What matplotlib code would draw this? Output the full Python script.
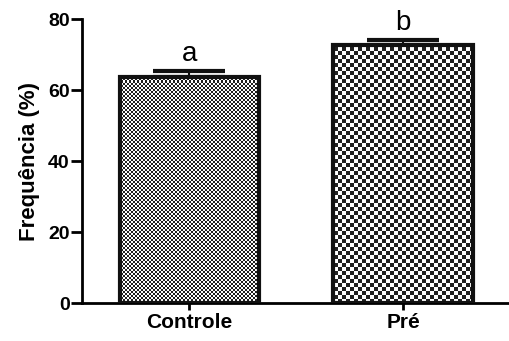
import numpy as np
import matplotlib.pyplot as plt

groups = ['Controle', 'Pré']
freq = [63.8, 72.6]
err_up = [1.6, 1.6]
letters = ['a', 'b']
check_px = [2, 4]   # checker square size in pixels for each bar

plt.rcParams['font.family'] = ['Liberation Sans', 'DejaVu Sans']

fig = plt.figure(figsize=(5.1, 3.41), dpi=100)
ax = fig.add_axes([0.161, 0.111, 0.839, 0.833])

x = np.arange(len(groups))
bars = ax.bar(x, freq, width=0.65, color='none', edgecolor='#111111',
              linewidth=3, zorder=3)
ax.errorbar(x, freq, yerr=[[0] * len(x), err_up], fmt='none', ecolor='#111111',
            elinewidth=1.5, capsize=26, capthick=3, zorder=2)

# checkerboard fill, clipped to each bar
xl, yl = (-0.5, 1.5), (0, 80)
w_px, h_px = 428, 284
for b, s in zip(bars, check_px):
    ny, nx = h_px // s, w_px // s
    arr = np.add.outer(np.arange(ny), np.arange(nx)) % 2
    im = ax.imshow(arr, cmap='gray', vmin=-0.15, vmax=1, extent=(*xl, *yl),
                   aspect='auto', interpolation='nearest', zorder=2.5)
    im.set_clip_path(b)

for xi, v, e, t in zip(x, freq, err_up, letters):
    ax.text(xi, v + e + 1.0, t, ha='center', va='bottom', fontsize=20)

ax.set_xlim(*xl)
ax.set_ylim(*yl)
ax.set_xticks(x)
ax.set_xticklabels(groups, fontsize=15, fontweight='bold')
ax.set_yticks([0, 20, 40, 60, 80])
ax.tick_params(axis='y', labelsize=14, length=8, width=2, pad=1)
ax.tick_params(axis='x', length=5, width=2, pad=2)
for lab in ax.get_yticklabels():
    lab.set_fontweight('bold')
ax.set_ylabel('Frequência (%)', fontsize=16, fontweight='bold', labelpad=6)

for sp in ['top', 'right']:
    ax.spines[sp].set_visible(False)
for sp in ['left', 'bottom']:
    ax.spines[sp].set_linewidth(2)

fig.savefig('out.png', dpi=100)
